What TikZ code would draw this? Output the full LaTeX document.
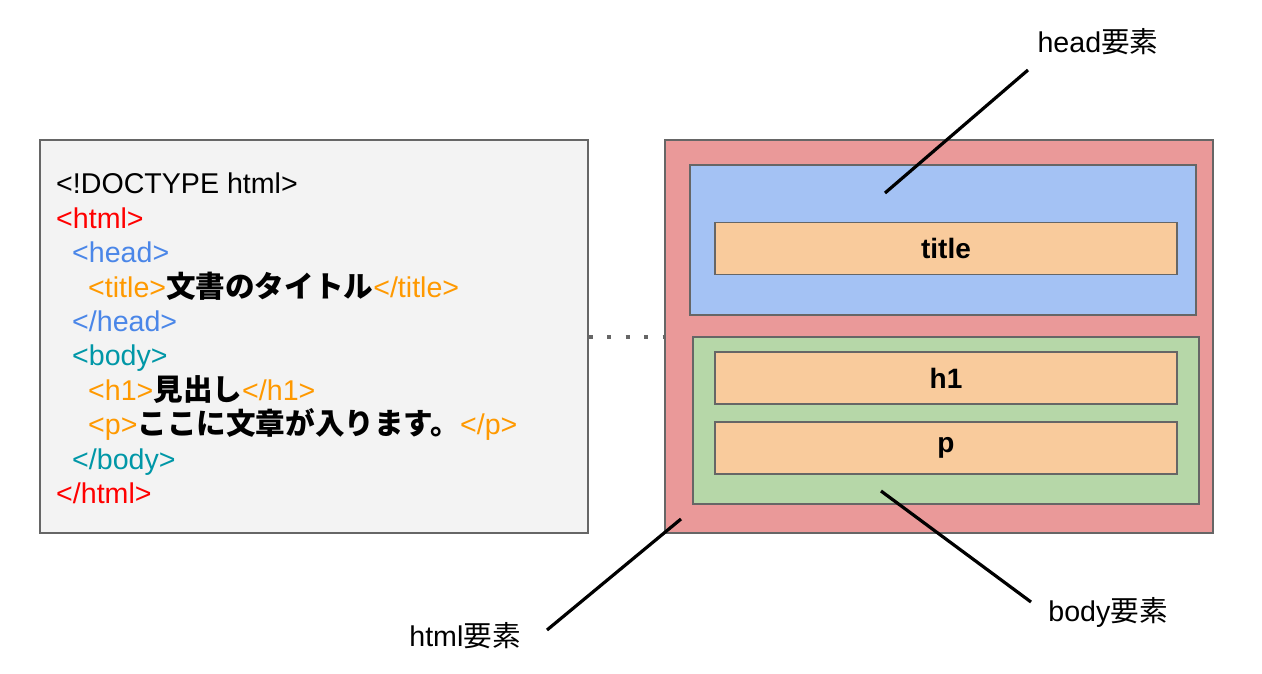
\documentclass[tikz,border=0pt]{standalone}
\usepackage{fontspec}
\setmainfont{Liberation Sans}
\newfontfamily\jp{Noto Sans CJK JP}
\usetikzlibrary{positioning}

\definecolor{tagred}{HTML}{FF0000}
\definecolor{tagblue}{HTML}{4A86E8}
\definecolor{tagteal}{HTML}{0097A7}
\definecolor{tagorange}{HTML}{FF9900}
\definecolor{edge}{HTML}{666666}
\definecolor{codebg}{HTML}{F3F3F3}
\definecolor{htmlbg}{HTML}{EA9999}
\definecolor{headbg}{HTML}{A4C2F4}
\definecolor{bodybg}{HTML}{B6D7A8}
\definecolor{elembg}{HTML}{F9CB9C}

\newcommand{\jpbold}[1]{{\jp\bfseries\fontsize{29.6}{34.4}\selectfont #1}}

\begin{document}
\begin{tikzpicture}[
  x=1pt, y=-1pt,
  font=\fontsize{28.6}{34.4}\selectfont,
  box/.style={draw=edge, line width=1.3pt, inner sep=0pt},
  elem/.style={box, fill=elembg, minimum width=462pt, minimum height=52pt, font=\fontsize{28}{30}\selectfont\bfseries},
  pointer/.style={line width=3.2pt, black},
  lab/.style={inner sep=0pt, font=\fontsize{28.6}{30}\selectfont}
]
\useasboundingbox (0,0) rectangle (1262,674);

\node[box, fill=codebg, minimum width=548pt, minimum height=393pt] (code) at (314,336.5) {};
\draw[edge, line width=4pt, dash pattern=on 4pt off 14.5pt] (code.east) -- ++(78,0) coordinate (dotsend);
\node[box, fill=htmlbg, minimum width=548pt, minimum height=393pt] (html) at (939,336.5) {};

\node[box, fill=headbg, minimum width=506pt, minimum height=150pt] (head) at (943,240) {};
\node[elem] (title) at (946,248.5) {title};
\node[box, fill=bodybg, minimum width=506pt, minimum height=167pt] (body) at (946,420.5) {};
\node[elem] (h1) at (946,378) {h1};
\node[elem] (p) at (946,448) {p};

% html source
\node[anchor=north west, align=left, inner sep=0pt] (src) at (56,173) {%
  <!DOCTYPE html>\\
  \textcolor{tagred}{<html>}\\
  \hspace*{16pt}\textcolor{tagblue}{<head>}\\
  \hspace*{32pt}\textcolor{tagorange}{<title>}\jpbold{文書のタイトル}\textcolor{tagorange}{</title>}\\
  \hspace*{16pt}\textcolor{tagblue}{</head>}\\
  \hspace*{16pt}\textcolor{tagteal}{<body>}\\
  \hspace*{32pt}\textcolor{tagorange}{<h1>}\jpbold{見出し}\textcolor{tagorange}{</h1>}\\
  \hspace*{32pt}\textcolor{tagorange}{<p>}\jpbold{ここに文章が入ります。}\textcolor{tagorange}{</p>}\\
  \hspace*{16pt}\textcolor{tagteal}{</body>}\\
  \textcolor{tagred}{</html>}};

% labels
\node[lab] (headlab) at (1098,42) {head{\jp 要素}};
\node[lab] (htmllab) at (465,636) {html{\jp 要素}};
\node[lab] (bodylab) at (1108,612) {body{\jp 要素}};

\coordinate (headtip) at (885,193);
\coordinate (htmltip) at (681,519);
\coordinate (bodytip) at (881,491);
\coordinate (headend) at (1028,70);
\coordinate (htmlend) at (547,630);
\coordinate (bodyend) at (1031,602);

\draw[pointer] (headend) -- (headtip);
\draw[pointer] (htmlend) -- (htmltip);
\draw[pointer] (bodytip) -- (bodyend);
\end{tikzpicture}
\end{document}
